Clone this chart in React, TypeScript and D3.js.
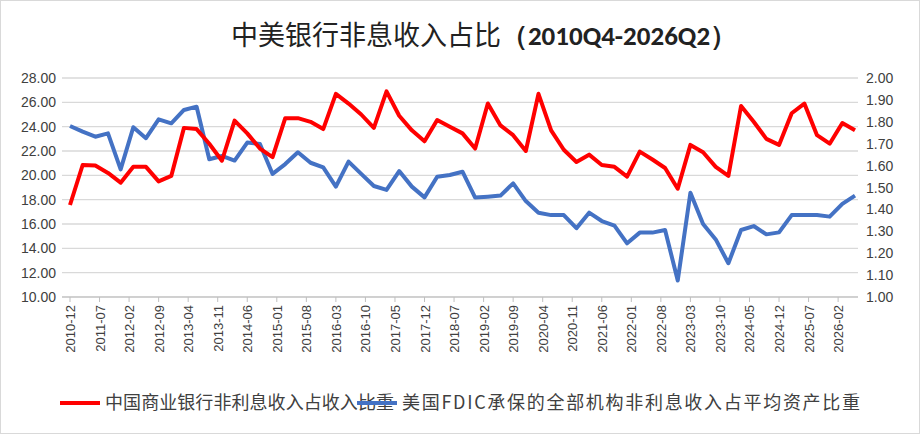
import React from "react";
import * as d3 from "d3";

const chinaRatio = [17.56,20.85,20.8,20.2,19.4,20.7,20.7,19.5,19.95,23.9,23.8,22.6,21.2,24.5,23.45,22.2,21.5,24.7,24.7,24.4,23.8,26.7,25.9,25.0,23.9,26.9,24.9,23.7,22.8,24.55,24.0,
23.45,22.2,25.9,24.1,23.3,22.0,26.7,23.7,22.1,21.1,21.7,20.85,20.7,19.9,21.95,21.3,20.6,18.9,22.5,21.9,20.7,19.95,25.7,24.4,23.0,22.5,25.1,25.9,23.3,22.6,24.3,23.7];
const usRatio = [1.781,1.755,1.732,1.747,1.583,1.775,1.725,1.811,1.793,1.854,1.869,1.629,1.644,1.623,1.705,1.699,1.562,1.607,1.661,1.613,1.592,1.504,1.618,1.562,1.507,1.489,1.575,1.504,1.455,1.549,1.557,
1.572,1.454,1.458,1.463,1.519,1.438,1.385,1.374,1.374,1.314,1.385,1.347,1.326,1.245,1.294,1.294,1.306,1.075,1.476,1.333,1.263,1.154,1.306,1.324,1.286,1.295,1.374,1.374,1.374,1.367,1.425,1.463];
const leftTicks = [10,12,14,16,18,20,22,24,26,28];
const rightTicks = [1.0,1.1,1.2,1.3,1.4,1.5,1.6,1.7,1.8,1.9,2.0];
const seriesNames = ["中国商业银行非利息收入占收入比重", "美国FDIC承保的全部机构非利息收入占平均资产比重"];

function monthLabel(m: number) {
  const total = 2010 * 12 + 11 + m;
  const y = Math.floor(total / 12);
  const mo = (total % 12) + 1;
  return `${y}-${String(mo).padStart(2, "0")}`;
}

export default function App() {
  const W = 920, H = 434;
  const L = 62, R = 858, T = 78, B = 297;
  const x = d3.scaleLinear().domain([0, 186]).range([70, 855]);
  const yl = d3.scaleLinear().domain([10, 28]).range([B, T]);
  const yr = d3.scaleLinear().domain([1, 2]).range([B, T]);
  const lineL = d3.line<number>().x((_, i) => x(i * 3)).y(d => yl(d));
  const lineR = d3.line<number>().x((_, i) => x(i * 3)).y(d => yr(d));
  const labelMonths = d3.range(0, 186, 7);
  const font = "'Noto Sans CJK SC', 'Noto Sans', sans-serif";
  return (
    <svg width={W} height={H} style={{ position: "absolute", left: 0, top: 0, background: "#fff", fontFamily: font }}>
      <rect x={0.5} y={0.5} width={W - 1} height={H - 1} fill="#fff" stroke="#d9d9d9" />
      <text x={484} y={45} textAnchor="middle" fontSize={27} fill="#222">
        中美银行非息收入占比<tspan fontWeight="bold" fontFamily="Carlito, Calibri, 'Liberation Sans', sans-serif">（2010Q4-2026Q2）</tspan>
      </text>
      {leftTicks.map(t => (
        <g key={t}>
          <line x1={L} x2={R} y1={yl(t)} y2={yl(t)} stroke="#d9d9d9" strokeWidth={1.3} />
          <text x={56} y={yl(t) + 5} textAnchor="end" fontSize={14} fill="#404040" fontFamily="'Liberation Sans', sans-serif">{t.toFixed(2)}</text>
        </g>
      ))}
      {rightTicks.map(t => (
        <text key={t} x={866} y={yr(t) + 5} fontSize={14} fill="#404040" fontFamily="'Liberation Sans', sans-serif">{t.toFixed(2)}</text>
      ))}
      <line x1={L} x2={R} y1={B} y2={B} stroke="#bfbfbf" />
      {labelMonths.map(m => (
        <g key={m}>
          <line x1={x(m)} x2={x(m)} y1={B} y2={B + 5} stroke="#bfbfbf" />
          <text transform={`translate(${x(m) + 5},${B + 8}) rotate(-90)`} textAnchor="end" fontSize={13} fill="#404040" fontFamily="'Liberation Sans', sans-serif">{monthLabel(m)}</text>
        </g>
      ))}
      <path d={lineR(usRatio) || ""} fill="none" stroke="#4472c4" strokeWidth={4} strokeLinejoin="round" />
      <path d={lineL(chinaRatio) || ""} fill="none" stroke="#ff0000" strokeWidth={4} strokeLinejoin="round" />
      <line x1={60} x2={100} y1={403} y2={403} stroke="#ff0000" strokeWidth={4} />
      <text x={105} y={409} fontSize={18} textLength={289} fill="#404040">{seriesNames[0]}</text>
      <line x1={357} x2={397} y1={403} y2={403} stroke="#4472c4" strokeWidth={4} />
      <text x={402} y={409} fontSize={18} textLength={458} fill="#404040">{seriesNames[1]}</text>
    </svg>
  );
}
